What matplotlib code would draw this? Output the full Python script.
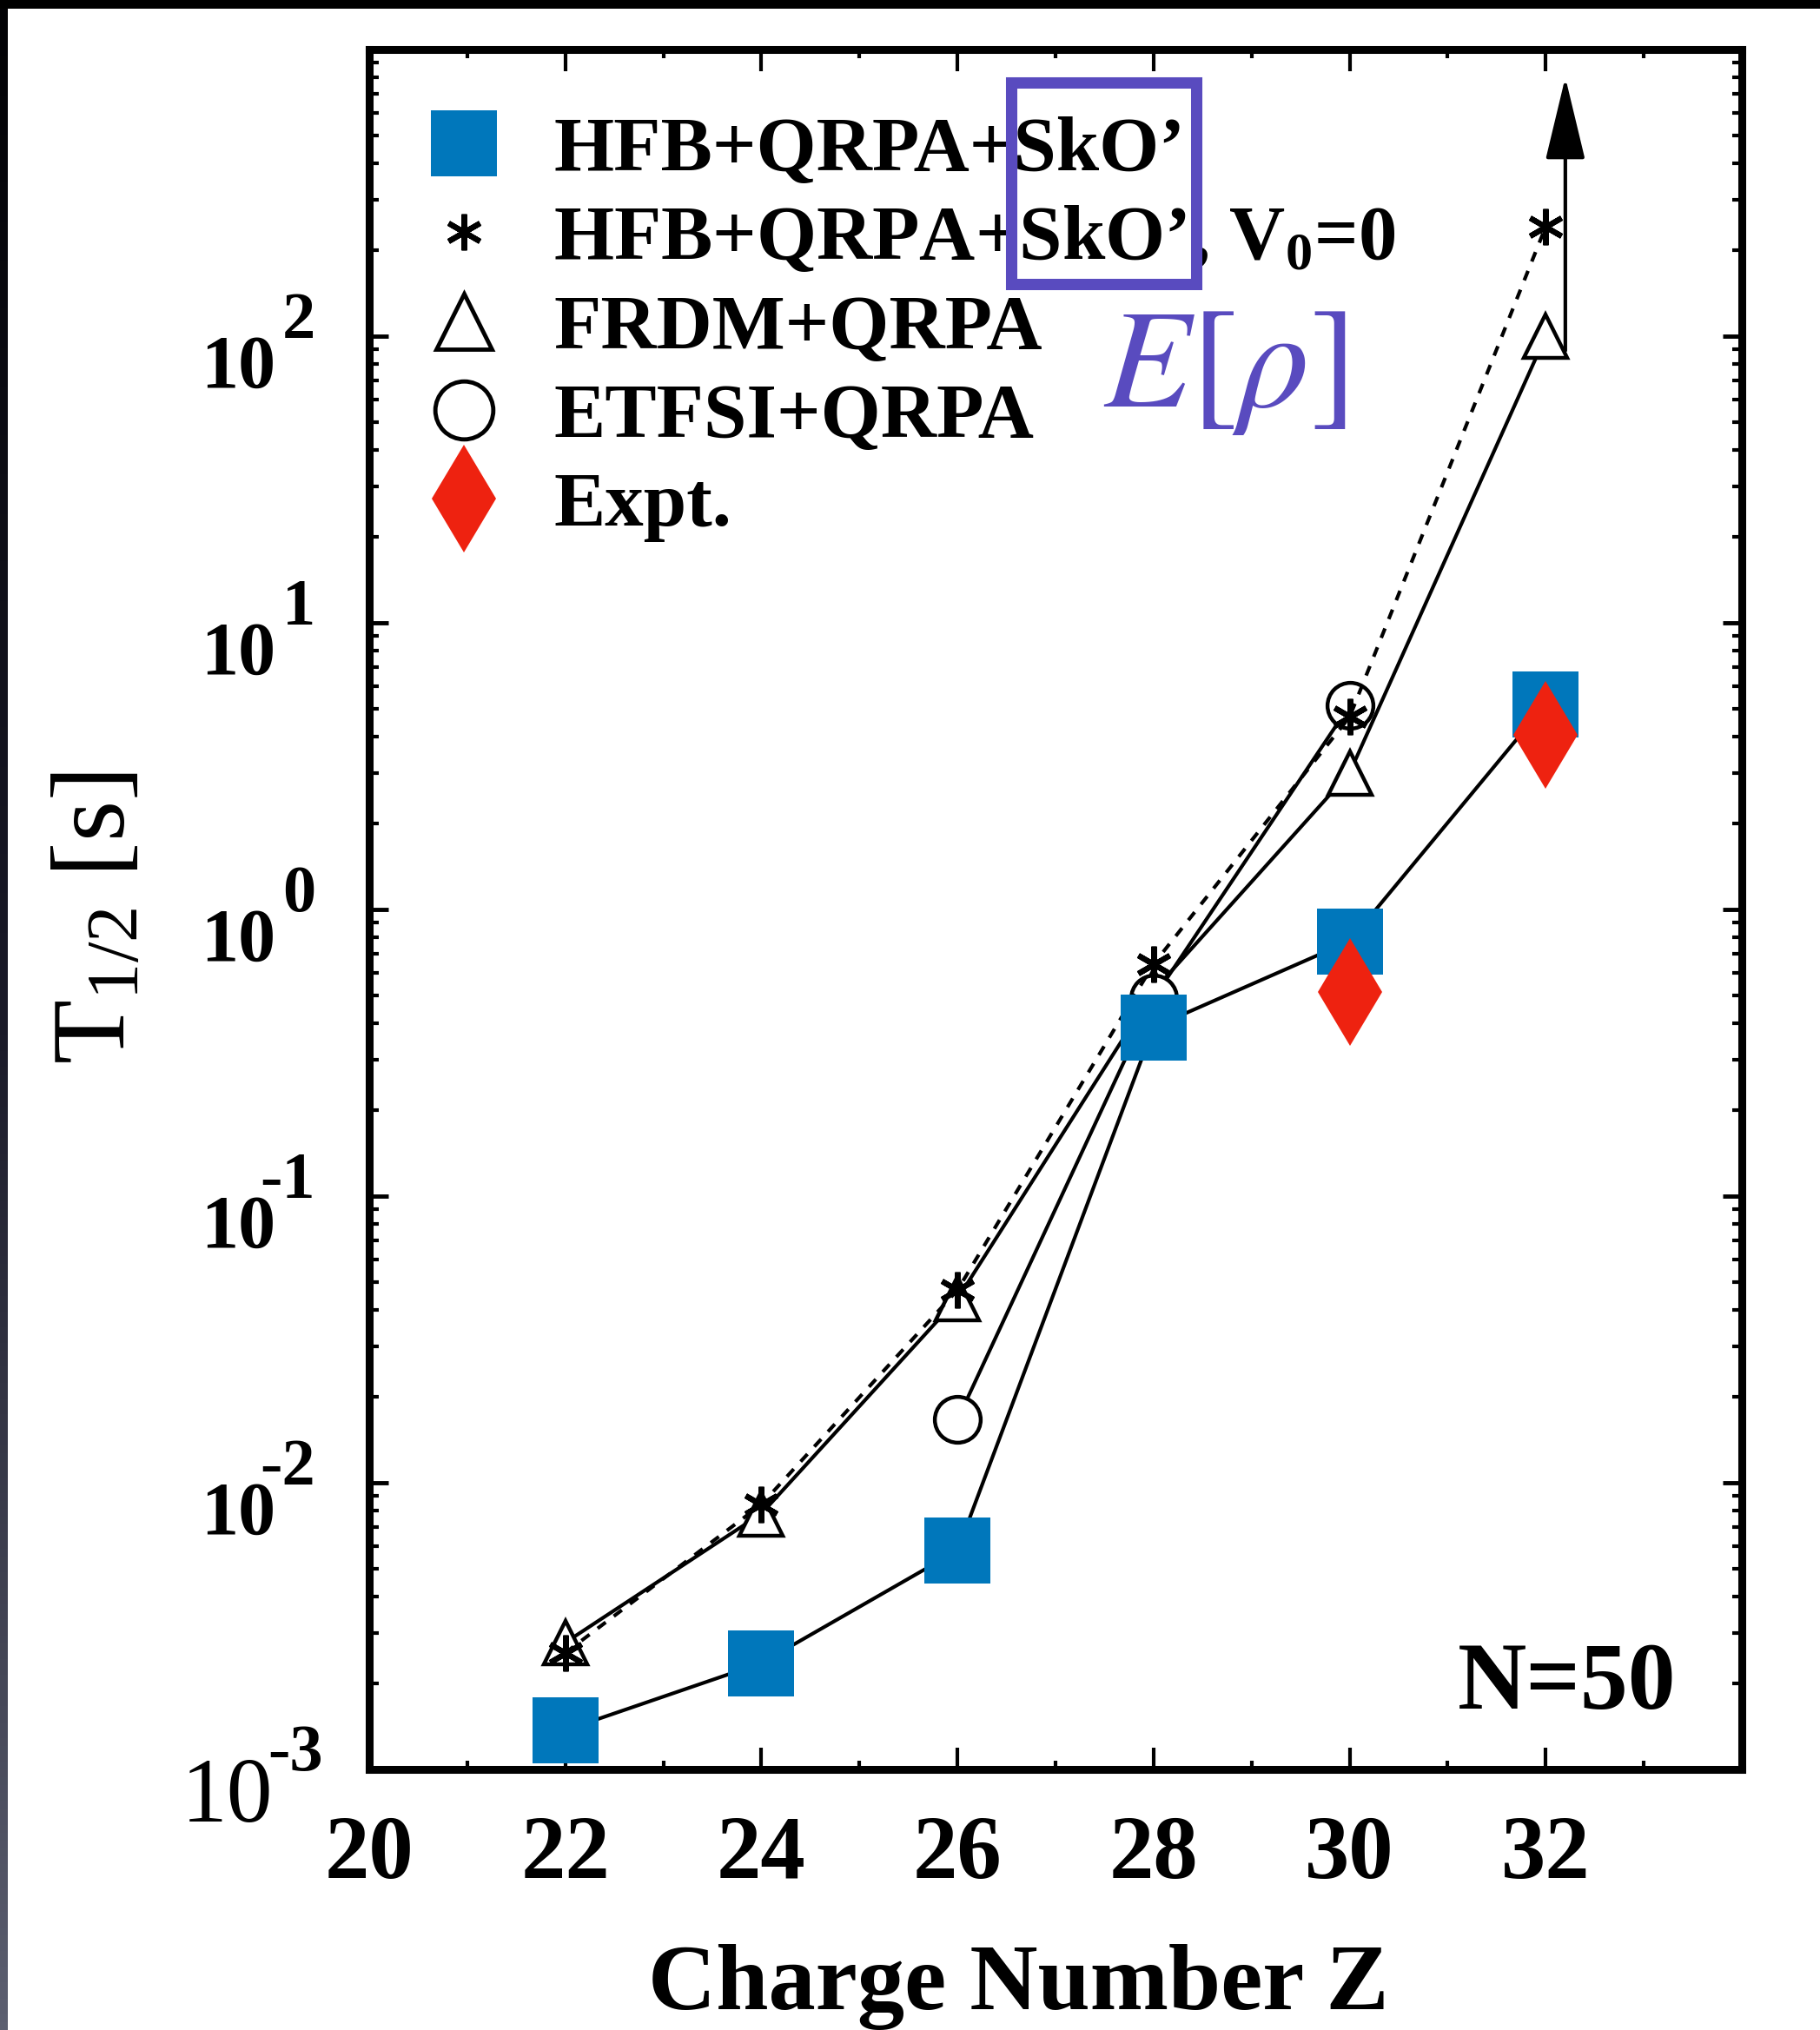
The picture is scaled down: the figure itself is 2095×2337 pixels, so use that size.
import matplotlib
matplotlib.use('Agg')
import matplotlib.pyplot as plt
import numpy as np
from matplotlib.lines import Line2D
from matplotlib.patches import Rectangle
from matplotlib.ticker import FixedLocator, LogLocator, NullFormatter
from matplotlib.colors import LinearSegmentedColormap

plt.rcParams['font.family'] = ['Liberation Serif', 'DejaVu Serif']
plt.rcParams['mathtext.fontset'] = 'custom'
plt.rcParams['mathtext.rm'] = 'Liberation Serif'
plt.rcParams['mathtext.it'] = 'Liberation Serif:italic'
plt.rcParams['mathtext.bf'] = 'Liberation Serif:bold'
plt.rcParams['mathtext.default'] = 'regular'

# ---------------- data ----------------
Z = [22, 24, 26, 28, 30, 32]
t_hfb_sko = [1.37e-3, 2.35e-3, 5.8e-3, 0.388, 0.775, 5.2]
t_hfb_v0 = [2.55e-3, 8.4e-3, 0.047, 0.645, 4.7, 241]
t_frdm = [2.77e-3, 7.8e-3, 0.0438, 0.52, 3.0, 100]
Z_etfsi = [26, 28, 30]
t_etfsi = [0.0166, 0.49, 5.15]
Z_expt = [30, 32]
t_expt = [0.515, 4.07]

# FRDM lower limit arrow at Z=32
arrow_z = 32.2
arrow_from = 89.0
arrow_to = 800.0

xtick_vals = [20, 22, 24, 26, 28, 30, 32]
xminor_vals = [21, 23, 25, 27, 29, 31, 33]
decades = [-3, -2, -1, 0, 1, 2, 3]
decade_labels = [-3, -2, -1, 0, 1, 2]

legend_labels = ["HFB+QRPA+SkO\u2019", "HFB+QRPA+SkO\u2019, V$_0$=0",
                 "FRDM+QRPA", "ETFSI+QRPA", "Expt."]

blue = '#0077BB'
red = '#EE2210'
purple = '#594BBF'

# ---------------- figure ----------------
W, H = 2095, 2337
fig = plt.figure(figsize=(W / 100, H / 100), dpi=100)
fig.patch.set_facecolor('white')
ax = fig.add_axes([425 / W, (H - 2037) / H, 1580 / W, 1980 / H])

ax.set_yscale('log')
ax.set_xlim(20, 34)
ax.set_ylim(1e-3, 1e3)

lw = 3.0
# FRDM
ax.plot(Z, t_frdm, '-', color='black', lw=lw, marker='^', ms=36,
        mfc='white', mec='black', mew=3.2, zorder=3)
# ETFSI
ax.plot(Z_etfsi, t_etfsi, '-', color='black', lw=lw, marker='o', ms=38,
        mfc='white', mec='black', mew=3.2, zorder=4)
# HFB V0=0
ax.plot(Z, t_hfb_v0, color='black', lw=lw, dashes=(2.8, 2.8),
        marker=(6, 2, 0), ms=30, mec='black', mew=4.5, zorder=5)
# HFB SkO'
ax.plot(Z, t_hfb_sko, '-', color='black', lw=lw, zorder=5.5)
ax.plot(Z, t_hfb_sko, 's', color=blue, ms=54.5, mew=0, zorder=6)
# Expt
ax.plot(Z_expt, t_expt, 'd', color=red, ms=63.5, mew=0, zorder=7)

# arrow
ax.annotate('', xy=(arrow_z, arrow_to), xytext=(arrow_z, arrow_from),
            arrowprops=dict(arrowstyle='-|>,head_length=1.0,head_width=0.24',
                            mutation_scale=60, lw=3, color='black',
                            shrinkA=0, shrinkB=0), zorder=8)

# ---------------- axes styling ----------------
for s in ax.spines.values():
    s.set_linewidth(6.5)

ax.xaxis.set_major_locator(FixedLocator(xtick_vals))
ax.xaxis.set_minor_locator(FixedLocator(xminor_vals))
ax.yaxis.set_major_locator(FixedLocator([10.0 ** k for k in decades]))
ax.yaxis.set_minor_locator(LogLocator(base=10, subs=np.arange(2, 10), numticks=50))
ax.yaxis.set_minor_formatter(NullFormatter())

ax.tick_params(axis='x', which='major', direction='in', top=True, bottom=True,
               length=18, width=3, pad=38, labelsize=74)
ax.tick_params(axis='x', which='minor', direction='in', top=True, bottom=True,
               length=7, width=3)
ax.tick_params(axis='y', which='major', direction='in', left=True, right=True,
               length=16, width=3.5, labelleft=False)
ax.tick_params(axis='y', which='minor', direction='in', left=True, right=True,
               length=8, width=3)
for lab in ax.get_xticklabels():
    lab.set_fontweight('bold')

# y tick labels: 10 with large exponent
for k in decade_labels:
    if k == -3:
        bsize, bw, bx, by, ex, ey = 76, 'normal', -111, -60, -53, -1
    else:
        bsize, bw, bx, by, ex, ey = 62, 'bold', -108, -59, -62, -2
    ax.annotate('10', xy=(0, 10.0 ** k), xycoords=('axes fraction', 'data'),
                xytext=(bx, by), textcoords='offset pixels', ha='right',
                va='baseline', fontsize=bsize, fontweight=bw,
                annotation_clip=False)
    ax.annotate(f'{k}', xy=(0, 10.0 ** k), xycoords=('axes fraction', 'data'),
                xytext=(ex, ey), textcoords='offset pixels', ha='right',
                va='baseline', fontsize=55, fontweight='bold',
                annotation_clip=False)

ax.set_xlabel('Charge Number Z', fontsize=78, fontweight='bold')
ax.xaxis.label.set_va('baseline')
ax.xaxis.set_label_coords(0.473, -0.1392)
ax.set_ylabel('T$_{1/2}$ [s]', fontsize=87)
ax.yaxis.set_label_coords(-0.1614, 0.495)

# ---------------- legend ----------------
handles = [
    Line2D([], [], ls='none', marker='s', color=blue, ms=54.5, mew=0),
    Line2D([], [], ls='none', marker=(6, 2, 0), color='black', ms=30, mew=4.5),
    Line2D([], [], ls='none', marker='^', mfc='white', mec='black', ms=46, mew=3.5),
    Line2D([], [], ls='none', marker='o', mfc='white', mec='black', ms=48, mew=3.5),
    Line2D([], [], ls='none', marker='d', color=red, ms=63.5, mew=0),
]
leg = ax.legend(handles, legend_labels, loc='upper left',
                bbox_to_anchor=(0.0408, 0.9611), borderaxespad=0, borderpad=0,
                frameon=False, handlelength=1.0, handletextpad=0.66,
                labelspacing=0.236, numpoints=1,
                prop={'family': 'Liberation Serif', 'weight': 'bold', 'size': 64})
leg.set_zorder(10)

# ---------------- annotations ----------------
ax.add_patch(Rectangle((0.4677, 0.8636), 0.6025 - 0.4677, 0.9808 - 0.8636,
                       transform=ax.transAxes, fill=False, edgecolor=purple,
                       lw=9.4, zorder=11, clip_on=False))
ax.text(0.5348, 0.7924, r'$\mathit{E}\mathrm{[}\mathit{\rho}\mathrm{]}$',
        transform=ax.transAxes, color=purple,
        fontsize=118, ha='left', va='baseline', math_fontfamily='stix', zorder=11)
ax.text(0.9519, 0.0354, 'N=50', transform=ax.transAxes, fontsize=79,
        fontweight='bold', ha='right', va='baseline', zorder=11)

# ---------------- scan border decorations ----------------
fig.patches.append(Rectangle((0, 1 - 10 / H), 1, 10 / H, transform=fig.transFigure,
                             facecolor='black', edgecolor='none', zorder=20))
grad_ax = fig.add_axes([0, 0, 9 / W, 1 - 10 / H])
grad = np.linspace(0, 1, 256).reshape(-1, 1)
cmap = LinearSegmentedColormap.from_list('edge', ['#5c5f70', '#1a1a28', '#020205'])
grad_ax.imshow(grad, aspect='auto', cmap=cmap, origin='lower')
grad_ax.set_axis_off()

fig.savefig('out.png', dpi=100)
